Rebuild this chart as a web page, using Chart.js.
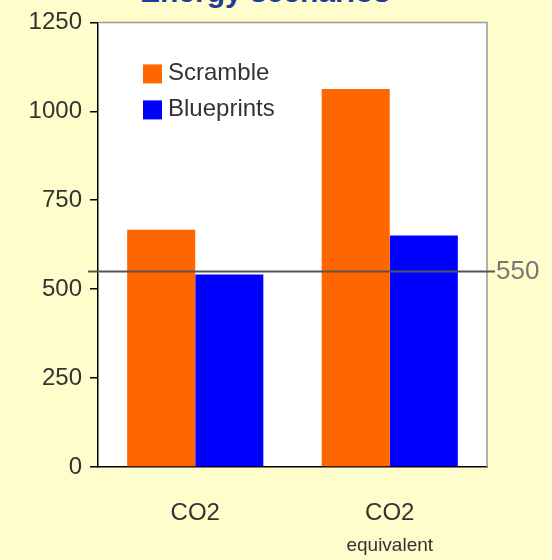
<!DOCTYPE html>
<html lang="en">
<head>
    <meta charset="UTF-8">
    <title>Energy scenarios</title>
    <script src="https://cdn.jsdelivr.net/npm/chart.js"></script>
    <style>
        body { margin: 0; background: #FFFDCC; }
        #wrap { position: relative; width: 552px; height: 560px; overflow: hidden; }
        #title {
            position: absolute; left: 0; width: 530px; top: -25px; text-align: center;
            font: bold 30px "Liberation Sans", sans-serif; color: #1F3C9C;
        }
        canvas { position: absolute; left: 0; top: 0; }
    </style>
</head>
<body>
    <div id="wrap">
        <div id="title">Energy scenarios</div>
        <canvas id="myChart" width="552" height="560"></canvas>
    </div>
    <script>
        // values
        var categories = ['CO2', 'CO2'];
        var subLabels = ['', 'equivalent'];
        var scramble = [667, 1063];
        var blueprints = [541, 651];
        var yTicks = [0, 250, 500, 750, 1000, 1250];
        var limit = 550;

        var font = '"Liberation Sans", sans-serif';

        // legend, 550 line and the small second x label
        const extras = {
            id: 'extras',
            afterDatasetsDraw(chart) {
                const c = chart.ctx;
                const area = chart.chartArea;
                const y = chart.scales.y;
                const x = chart.scales.x;
                c.save();
                // frame top / right
                c.strokeStyle = '#999';
                c.lineWidth = 1.5;
                c.beginPath();
                c.moveTo(area.left, area.top);
                c.lineTo(area.right, area.top);
                c.lineTo(area.right, area.bottom);
                c.stroke();

                // limit line
                const ly = y.getPixelForValue(limit);
                c.strokeStyle = '#555';
                c.lineWidth = 2;
                c.beginPath();
                c.moveTo(area.left - 10, ly);
                c.lineTo(area.right + 8, ly);
                c.stroke();
                c.fillStyle = '#777';
                c.font = '26px ' + font;
                c.textAlign = 'left';
                c.textBaseline = 'middle';
                c.fillText(String(limit), area.right + 9, ly);

                // legend
                c.font = '24px ' + font;
                chart.data.datasets.forEach((ds, i) => {
                    const ty = area.top + 42 + i * 36;
                    c.fillStyle = ds.backgroundColor;
                    c.fillRect(area.left + 45, ty, 19, 19);
                    c.fillStyle = '#333';
                    c.fillText(ds.label, area.left + 70, ty + 9);
                });

                // second line of x labels
                c.font = '19px ' + font;
                c.textAlign = 'center';
                c.fillStyle = '#333';
                subLabels.forEach((s, i) => {
                    if (s) c.fillText(s, x.getPixelForTick(i), area.bottom + 79);
                });
                c.restore();
            }
        };

        const ctx = document.getElementById('myChart');
        new Chart(ctx, {
            type: 'bar',
            data: {
                labels: categories,
                datasets: [{
                    label: 'Scramble',
                    data: scramble,
                    backgroundColor: '#FF6600'
                }, {
                    label: 'Blueprints',
                    data: blueprints,
                    backgroundColor: '#0000FF'
                }]
            },
            options: {
                responsive: false,
                animation: false,
                layout: { padding: { top: 20, right: 65, left: 0, bottom: 0 } },
                plugins: {
                    legend: { display: false },
                    tooltip: { enabled: false }
                },
                datasets: {
                    bar: { categoryPercentage: 0.7, barPercentage: 1 }
                },
                scales: {
                    x: {
                        grid: { display: false, drawTicks: false },
                        border: { color: '#000', width: 1.5 },
                        ticks: { color: '#333', font: { family: font, size: 24 }, padding: 32 },
                        afterFit: s => { s.height = 93; }
                    },
                    y: {
                        min: 0,
                        max: 1250,
                        afterBuildTicks: s => { s.ticks = yTicks.map(v => ({ value: v })); },
                        grid: { display: true, drawOnChartArea: false, tickLength: 8, color: '#000', lineWidth: 1.5 },
                        border: { color: '#000', width: 1.5 },
                        ticks: {
                            color: '#333', font: { family: font, size: 24 }, padding: 8,
                            callback: v => String(v)
                        },
                        afterFit: s => { s.width = 98; }
                    }
                }
            },
            plugins: [{
                id: 'plotBg',
                beforeDraw(chart) {
                    const a = chart.chartArea;
                    chart.ctx.save();
                    chart.ctx.fillStyle = '#FFFFFF';
                    chart.ctx.fillRect(a.left, a.top, a.right - a.left, a.bottom - a.top);
                    chart.ctx.restore();
                }
            }, extras]
        });
    </script>
</body>
</html>
